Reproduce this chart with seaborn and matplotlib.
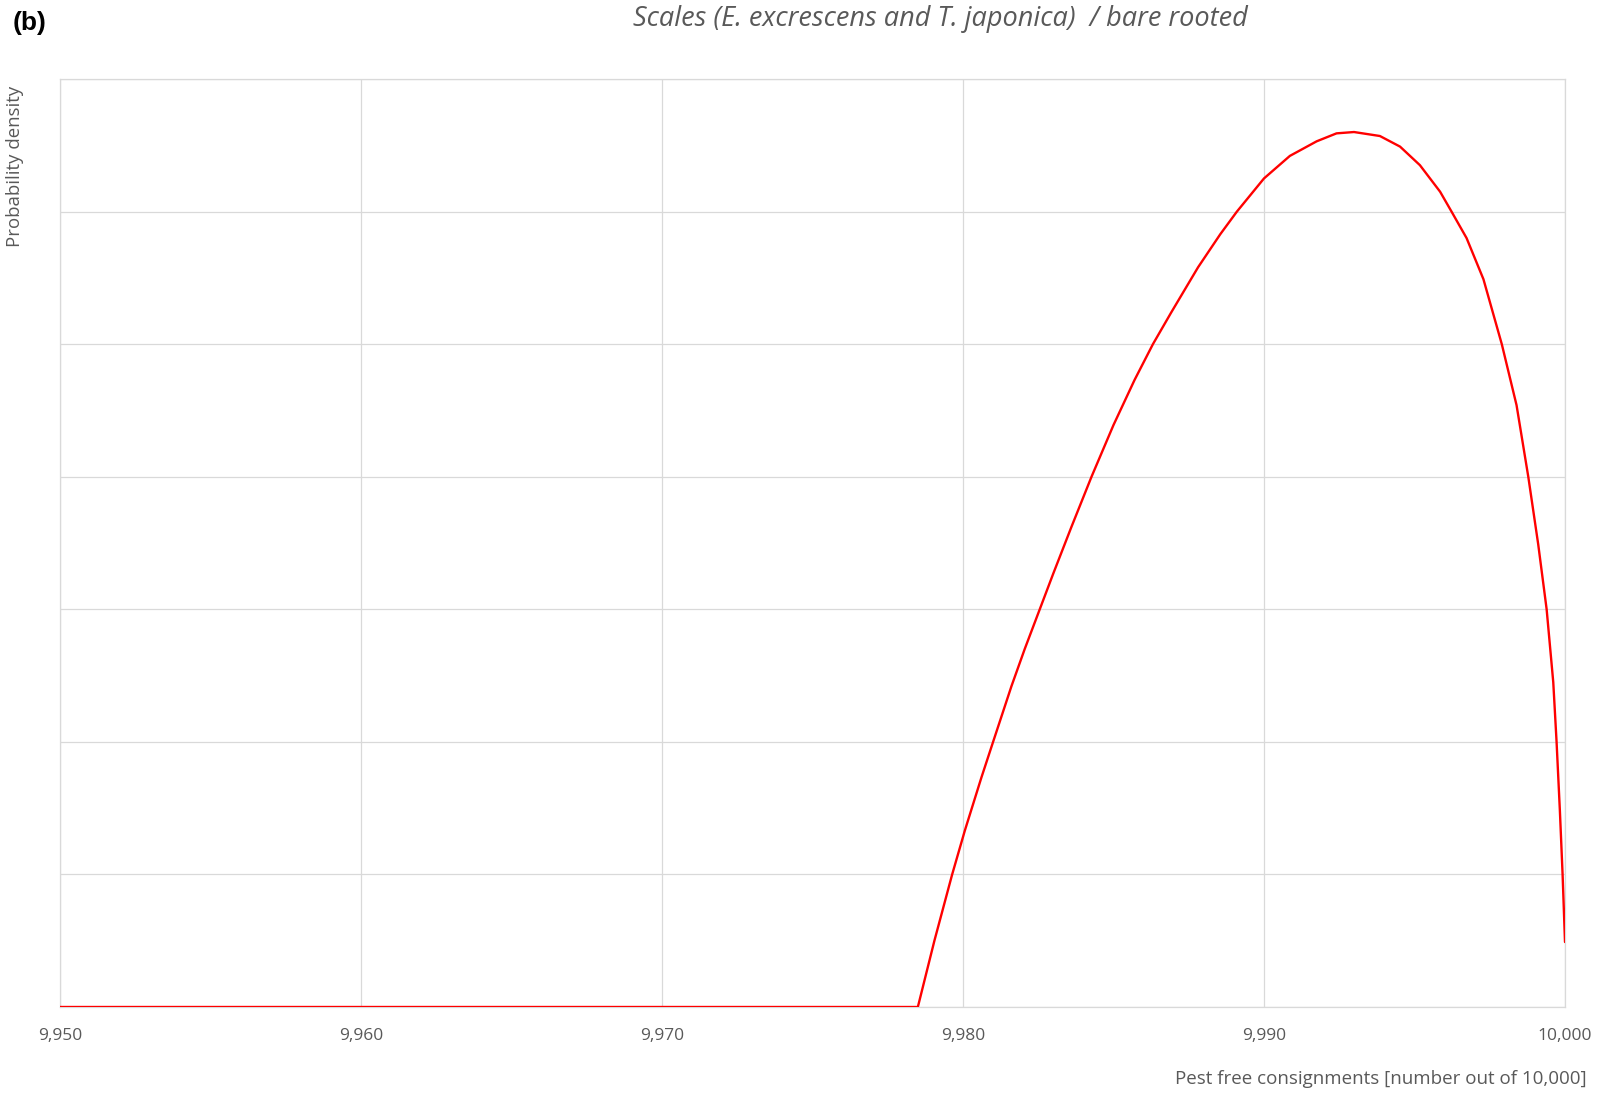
import matplotlib
matplotlib.use("Agg")
import matplotlib.pyplot as plt
import pandas as pd
import seaborn as sns

# values (y in grid units, axis is unlabelled)
pest_free = [9950.0, 9978.50, 9979.05, 9979.64, 9980.06, 9980.61, 9981.00, 9981.61,
             9982.05, 9982.55, 9983.00, 9983.60, 9984.27, 9985.00, 9985.70, 9986.31,
             9986.92, 9987.81, 9988.55, 9989.10, 9990.00, 9990.86, 9991.75, 9992.41,
             9992.99, 9993.85, 9994.52, 9995.18, 9995.85, 9996.23, 9996.73, 9997.29,
             9997.90, 9998.39, 9998.78, 9999.11, 9999.39, 9999.61, 9999.72, 9999.83,
             9999.92, 10000.0]
density = [0.0, 0.0, 0.50, 1.0, 1.33, 1.73, 2.0, 2.42,
           2.70, 3.0, 3.27, 3.62, 4.0, 4.39, 4.73, 5.0,
           5.24, 5.58, 5.83, 6.0, 6.25, 6.42, 6.53, 6.59,
           6.60, 6.57, 6.49, 6.35, 6.15, 6.0, 5.80, 5.49,
           5.0, 4.54, 4.0, 3.49, 3.0, 2.45, 2.0, 1.48,
           1.0, 0.49]

x_ticks = [9950, 9960, 9970, 9980, 9990, 10000]
x_tick_labels = ["9,950", "9,960", "9,970", "9,980", "9,990", "10,000"]
y_ticks = [0, 1, 2, 3, 4, 5, 6, 7]

title = "Scales (E. excrescens and T. japonica)  / bare rooted"
x_label = "Pest free consignments [number out of 10,000]"
y_label = "Probability density"

sns.set_style("white")
plt.rcParams['font.family'] = ['Open Sans', 'DejaVu Sans']

grid_col = "#d9d9d9"
text_col = "#595959"

df = pd.DataFrame({"x": pest_free, "y": density})

fig = plt.figure(figsize=(15.99, 10.94), dpi=100)
ax = fig.add_axes([60 / 1599, 1 - 1007 / 1094, 1505 / 1599, 928 / 1094])

sns.lineplot(data=df, x="x", y="y", color="#ff0000", linewidth=1.7,
             sort=False, estimator=None, ax=ax, zorder=3)

ax.set_xlim(9950, 10000)
ax.set_ylim(0, 7)
ax.set_xticks(x_ticks)
ax.set_xticklabels(x_tick_labels, color=text_col, fontsize=12.5)
ax.set_yticks(y_ticks)
ax.set_yticklabels([])
ax.tick_params(length=0, pad=15)
ax.grid(True, color=grid_col, linewidth=0.9)
for s in ax.spines.values():
    s.set_color(grid_col)
    s.set_linewidth(0.9)
ax.set_xlabel("")
ax.set_ylabel("")

fig.text(1587 / 1599, 1 - 1079 / 1094, x_label, ha="right", va="center",
         color=text_col, fontsize=13.5)
fig.text(15 / 1599, 1 - 86 / 1094, y_label, rotation=90, ha="center", va="top",
         color=text_col, fontsize=13.4)
fig.text(940 / 1599, 1 - 19 / 1094, title, ha="center", va="center",
         color=text_col, fontsize=19.5, style="italic")
fig.text(13 / 1599, 1 - 23 / 1094, "(b)", ha="left", va="center",
         color="black", fontsize=19, fontweight="bold", family="Liberation Sans")

fig.savefig("out.png", dpi=100)
